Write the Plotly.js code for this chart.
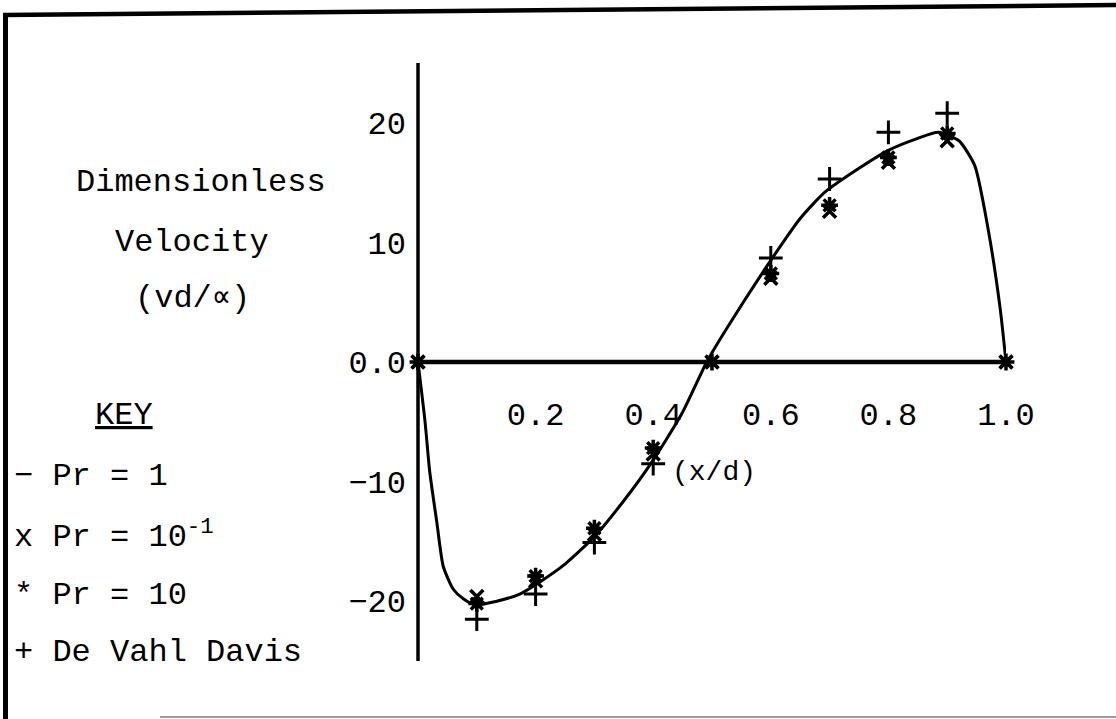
<!DOCTYPE html>
<html>
<head>
<meta charset="utf-8">
<script src="https://cdn.plot.ly/plotly-3.0.1.min.js"></script>
<style>
  html, body { margin: 0; padding: 0; background: #ffffff; }
  #chart { width: 1116px; height: 719px; }
</style>
</head>
<body>
<div id="chart"></div>
<script>
// ---- Data ----
// Pr = 1 : continuous solution curve
var curveX = [0, 0.012, 0.02, 0.032, 0.043, 0.06, 0.077, 0.097, 0.134, 0.173, 0.213, 0.25, 0.3, 0.35, 0.4, 0.45, 0.491, 0.525, 0.6, 0.65, 0.692, 0.75, 0.8, 0.85, 0.885, 0.92, 0.947, 0.97, 0.99, 1.0];
var curveY = [0, -5.0, -9.2, -13.4, -17.1, -19.0, -19.8, -20.3, -20.0, -19.4, -18.2, -16.9, -14.6, -11.6, -8.2, -4.2, 0, 2.8, 8.5, 12.0, 14.2, 16.2, 17.7, 18.7, 19.2, 18.5, 16.4, 11.0, 4.5, 0];

// Pr = 0.1 (x markers)
var prTenthX = [0, 0.1, 0.2, 0.3, 0.4, 0.5, 0.6, 0.7, 0.8, 0.9, 1.0];
var prTenthY = [0, -19.6, -18.3, -14.4, -7.7, 0, 7.0, 12.6, 16.7, 18.5, 0];

// Pr = 10 (* markers)
var prTenX = [0, 0.1, 0.2, 0.3, 0.4, 0.5, 0.6, 0.7, 0.8, 0.9, 1.0];
var prTenY = [0, -20.2, -17.9, -13.9, -7.2, 0, 7.4, 13.1, 17.1, 19.1, 0];

// De Vahl Davis (+ markers)
var dvdX = [0.1, 0.2, 0.3, 0.4, 0.6, 0.7, 0.8, 0.9];
var dvdY = [-21.5, -19.4, -15.1, -8.5, 8.7, 15.3, 19.2, 20.8];

// Axis ticks
var xTickVals = [0.2, 0.4, 0.6, 0.8, 1.0];
var xTickText = ['0.2', '0.4', '0.6', '0.8', '1.0'];
var yTickVals = [20, 10, 0, -10, -20];
var yTickText = ['20', '10', '0.0', '\u221210', '\u221220'];

// Text labels
var yTitleLines = ['Dimensionless', 'Velocity', '(vd/\u221D)'];
var keyTitle = 'KEY';
var keyLines = ['\u2212 Pr = 1', 'x Pr = 10<sup>-1</sup>', '* Pr = 10', '+ De Vahl Davis'];
var xTitle = '(x/d)';

// ---- Layout helpers ----
var W = 1116, H = 719;
var M = {l: 418, r: 110, t: 63, b: 58};
var PW = W - M.l - M.r, PH = H - M.t - M.b;
function px(x) { return (x - M.l) / PW; }
function py(y) { return (H - M.b - y) / PH; }

var FONT = '"Liberation Mono", "Courier New", "DejaVu Sans Mono", monospace';
var TXT = {family: FONT, size: 32, color: '#000'};

var traces = [
  {
    x: curveX, y: curveY, type: 'scatter', mode: 'lines',
    line: {color: '#000', width: 3, shape: 'spline', smoothing: 0.6},
    hoverinfo: 'skip', cliponaxis: false
  },
  {
    x: prTenthX, y: prTenthY, type: 'scatter', mode: 'markers',
    marker: {symbol: 'x-thin', size: 13, color: '#000', line: {color: '#000', width: 3.5}},
    cliponaxis: false
  },
  {
    x: prTenX, y: prTenY, type: 'scatter', mode: 'markers',
    marker: {symbol: 'asterisk', size: 14, color: '#000', line: {color: '#000', width: 3.5}},
    cliponaxis: false
  },
  {
    x: dvdX, y: dvdY, type: 'scatter', mode: 'markers',
    marker: {symbol: 'cross-thin', size: 17, color: '#000', line: {color: '#000', width: 3}},
    cliponaxis: false
  }
];

var annotations = [];
var yTitleCenters = [[201, 182], [192, 242], [192, 298]];
yTitleLines.forEach(function (t, i) {
  annotations.push({
    text: t, xref: 'paper', yref: 'paper',
    x: px(yTitleCenters[i][0]), y: py(yTitleCenters[i][1]),
    xanchor: 'center', yanchor: 'middle', showarrow: false,
    font: TXT
  });
});
annotations.push({
  text: '<u>' + keyTitle + '</u>', xref: 'paper', yref: 'paper',
  x: px(124), y: py(416), xanchor: 'center', yanchor: 'middle', showarrow: false,
  font: TXT
});
var keyY = [476, 535, 595, 652];
keyLines.forEach(function (t, i) {
  annotations.push({
    text: t, xref: 'paper', yref: 'paper',
    x: px(12), y: py(keyY[i]), xanchor: 'left', yanchor: 'middle', showarrow: false,
    font: TXT
  });
});
annotations.push({
  text: xTitle, xref: 'paper', yref: 'paper',
  x: px(670), y: py(472), xanchor: 'left', yanchor: 'middle', showarrow: false,
  font: {family: FONT, size: 28, color: '#000'}
});

var shapes = [
  // vertical axis line (x = 0, spanning the y range)
  {type: 'line', xref: 'paper', yref: 'y', x0: 0, x1: 0, y0: -25, y1: 25, line: {color: '#000', width: 3.5}},
  // horizontal axis line at y = 0
  {type: 'line', xref: 'paper', yref: 'y', x0: 0, x1: px(1010), y0: 0, y1: 0, line: {color: '#000', width: 4.5}},
  // page frame (left, top, bottom)
  {type: 'line', xref: 'paper', yref: 'paper', x0: px(5.5), x1: px(5.5), y0: py(14), y1: py(719), line: {color: '#000', width: 5}},
  {type: 'line', xref: 'paper', yref: 'paper', x0: px(3), x1: px(1116), y0: py(15), y1: py(5), line: {color: '#000', width: 4.5}},
  {type: 'line', xref: 'paper', yref: 'paper', x0: px(160), x1: px(1116), y0: py(717), y1: py(717), line: {color: '#9a9a9a', width: 2}}
];

var layout = {
  width: W, height: H,
  margin: M,
  paper_bgcolor: '#fff', plot_bgcolor: '#fff',
  showlegend: false,
  xaxis: {
    range: [0, 1], anchor: 'free', position: 0.5,
    showgrid: false, zeroline: false, showline: false, ticks: '',
    tickvals: xTickVals, ticktext: xTickText,
    ticklabelstandoff: 30,
    tickfont: TXT,
    fixedrange: true
  },
  yaxis: {
    range: [-25, 25],
    showgrid: false, zeroline: false, showline: false, ticks: '',
    tickvals: yTickVals, ticktext: yTickText,
    ticklabelstandoff: 11,
    tickfont: TXT,
    fixedrange: true
  },
  annotations: annotations,
  shapes: shapes
};

Plotly.newPlot('chart', traces, layout, {displayModeBar: false, staticPlot: true});
</script>
</body>
</html>
